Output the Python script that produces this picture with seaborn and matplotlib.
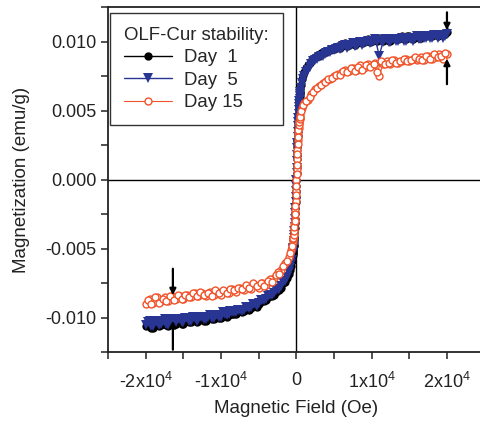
import numpy as np
import pandas as pd
import seaborn as sns
import matplotlib.pyplot as plt
from matplotlib.ticker import MultipleLocator, FixedLocator, FixedFormatter

# magnetic field (Oe), first sweep (listed in ascending order, measured downward)
field_down = [
    -20000, -19500, -19000, -18500, -18000, -17500, -17000, -16500, -16000, -15500,
    -15000, -14500, -14000, -13500, -13000, -12500, -12000, -11500, -11000, -10500,
    -10000, -9500, -9000, -8500, -8000, -7500, -7000, -6500, -6000, -5500,
    -5000, -4500, -4000, -3500, -3000, -2500, -2000, -1500, -1000, -750,
    -500, -450, -400, -350, -300, -250, -200, -150, -100, -50,
    0, 50, 100, 150, 200, 250, 300, 350, 400, 450,
    500, 750, 1000, 1500, 2000, 2500, 3000, 3500, 4000, 4500,
    5000, 5500, 6000, 6500, 7000, 7500, 8000, 8500, 9000, 9500,
    10000, 10500, 11000, 11500, 12000, 12500, 13000, 13500, 14000, 14500,
    15000, 15500, 16000, 16500, 17000, 17500, 18000, 18500, 19000, 19500,
    20000]

# magnetic field (Oe), return sweep
field_up = [
    -19750, -19250, -18750, -18250, -17750, -17250, -16750, -16250, -15750, -15250,
    -14750, -14250, -13750, -13250, -12750, -12250, -11750, -11250, -10750, -10250,
    -9750, -9250, -8750, -8250, -7750, -7250, -6750, -6250, -5750, -5250,
    -4750, -4250, -3750, -3250, -2750, -2250, -1750, -1250, -875, -625,
    -475, -425, -375, -325, -275, -225, -175, -125, -75, -25,
    25, 75, 125, 175, 225, 275, 325, 375, 425, 475,
    625, 875, 1250, 1750, 2250, 2750, 3250, 3750, 4250, 4750,
    5250, 5750, 6250, 6750, 7250, 7750, 8250, 8750, 9250, 9750,
    10250, 10750, 11250, 11750, 12250, 12750, 13250, 13750, 14250, 14750,
    15250, 15750, 16250, 16750, 17250, 17750, 18250, 18750, 19250, 19750]

# magnetization (emu/g)
day1_down = [
    -0.0106, -0.0104, -0.0107, -0.0104, -0.0105, -0.0103, -0.0106, -0.0104, -0.0104, -0.0102,
    -0.0104, -0.0101, -0.0103, -0.0101, -0.0102, -0.0100, -0.0102, -0.0099, -0.0101, -0.0099,
    -0.0100, -0.0098, -0.0098, -0.0097, -0.0097, -0.0095, -0.0095, -0.0093, -0.0093, -0.0091,
    -0.0090, -0.0088, -0.0087, -0.0084, -0.0083, -0.0080, -0.0078, -0.0074, -0.0068, -0.0062,
    -0.0054, -0.0052, -0.0050, -0.0047, -0.0043, -0.0038, -0.0031, -0.0024, -0.0016, -0.0008,
    0.0000, 0.0010, 0.0019, 0.0028, 0.0036, 0.0043, 0.0049, 0.0055, 0.0059, 0.0063,
    0.0066, 0.0073, 0.0078, 0.0083, 0.0086, 0.0089, 0.0090, 0.0092, 0.0093, 0.0094,
    0.0095, 0.0097, 0.0097, 0.0099, 0.0098, 0.0100, 0.0099, 0.0101, 0.0100, 0.0102,
    0.0101, 0.0103, 0.0102, 0.0101, 0.0103, 0.0101, 0.0103, 0.0102, 0.0104, 0.0102,
    0.0104, 0.0102, 0.0105, 0.0103, 0.0104, 0.0105, 0.0104, 0.0106, 0.0105, 0.0105,
    0.0107]
day1_up = [
    -0.0104, -0.0107, -0.0103, -0.0106, -0.0103, -0.0105, -0.0102, -0.0105, -0.0102, -0.0104,
    -0.0101, -0.0103, -0.0100, -0.0103, -0.0100, -0.0102, -0.0100, -0.0101, -0.0099, -0.0100,
    -0.0097, -0.0099, -0.0096, -0.0097, -0.0095, -0.0096, -0.0093, -0.0094, -0.0091, -0.0092,
    -0.0088, -0.0088, -0.0085, -0.0084, -0.0081, -0.0080, -0.0075, -0.0071, -0.0065, -0.0059,
    -0.0053, -0.0051, -0.0048, -0.0045, -0.0041, -0.0035, -0.0028, -0.0020, -0.0012, -0.0004,
    0.0005, 0.0015, 0.0024, 0.0032, 0.0040, 0.0046, 0.0052, 0.0057, 0.0061, 0.0064,
    0.0069, 0.0076, 0.0081, 0.0085, 0.0088, 0.0090, 0.0092, 0.0093, 0.0094, 0.0095,
    0.0096, 0.0096, 0.0098, 0.0097, 0.0099, 0.0098, 0.0100, 0.0099, 0.0101, 0.0100,
    0.0102, 0.0101, 0.0102, 0.0103, 0.0101, 0.0103, 0.0102, 0.0103, 0.0102, 0.0104,
    0.0103, 0.0104, 0.0103, 0.0105, 0.0104, 0.0104, 0.0106, 0.0104, 0.0106, 0.0106]

day5_down = [
    -0.0105, -0.0102, -0.0106, -0.0103, -0.0104, -0.0101, -0.0105, -0.0102, -0.0103, -0.0101,
    -0.0103, -0.0100, -0.0102, -0.0100, -0.0101, -0.0099, -0.0101, -0.0098, -0.0100, -0.0098,
    -0.0099, -0.0097, -0.0097, -0.0096, -0.0096, -0.0094, -0.0094, -0.0092, -0.0092, -0.0090,
    -0.0089, -0.0087, -0.0086, -0.0083, -0.0082, -0.0079, -0.0077, -0.0073, -0.0067, -0.0061,
    -0.0053, -0.0051, -0.0049, -0.0046, -0.0042, -0.0037, -0.0031, -0.0024, -0.0016, -0.0008,
    0.0000, 0.0009, 0.0018, 0.0027, 0.0035, 0.0042, 0.0048, 0.0053, 0.0057, 0.0061,
    0.0064, 0.0070, 0.0075, 0.0080, 0.0084, 0.0087, 0.0089, 0.0090, 0.0092, 0.0093,
    0.0094, 0.0096, 0.0096, 0.0098, 0.0097, 0.0099, 0.0098, 0.0100, 0.0099, 0.0101,
    0.0100, 0.0102, 0.0090, 0.0100, 0.0102, 0.0100, 0.0102, 0.0101, 0.0103, 0.0101,
    0.0103, 0.0101, 0.0104, 0.0102, 0.0103, 0.0104, 0.0103, 0.0105, 0.0104, 0.0103,
    0.0106]
day5_up = [
    -0.0103, -0.0106, -0.0102, -0.0105, -0.0102, -0.0104, -0.0101, -0.0104, -0.0101, -0.0103,
    -0.0100, -0.0102, -0.0099, -0.0102, -0.0099, -0.0101, -0.0099, -0.0100, -0.0098, -0.0099,
    -0.0096, -0.0098, -0.0095, -0.0096, -0.0094, -0.0095, -0.0092, -0.0093, -0.0090, -0.0091,
    -0.0087, -0.0087, -0.0084, -0.0083, -0.0080, -0.0079, -0.0074, -0.0070, -0.0064, -0.0058,
    -0.0052, -0.0050, -0.0047, -0.0044, -0.0040, -0.0034, -0.0028, -0.0020, -0.0012, -0.0004,
    0.0005, 0.0014, 0.0023, 0.0031, 0.0039, 0.0045, 0.0051, 0.0055, 0.0059, 0.0062,
    0.0067, 0.0073, 0.0078, 0.0082, 0.0086, 0.0088, 0.0090, 0.0091, 0.0093, 0.0094,
    0.0095, 0.0095, 0.0097, 0.0096, 0.0098, 0.0097, 0.0099, 0.0098, 0.0100, 0.0099,
    0.0101, 0.0100, 0.0101, 0.0102, 0.0100, 0.0102, 0.0101, 0.0102, 0.0101, 0.0103,
    0.0102, 0.0103, 0.0102, 0.0104, 0.0103, 0.0103, 0.0105, 0.0103, 0.0105, 0.0104]

day15_down = [
    -0.0090, -0.0086, -0.0089, -0.0085, -0.0088, -0.0085, -0.0088, -0.0084, -0.0086, -0.0084,
    -0.0086, -0.0083, -0.0085, -0.0082, -0.0084, -0.0082, -0.0084, -0.0081, -0.0083, -0.0081,
    -0.0083, -0.0081, -0.0082, -0.0079, -0.0081, -0.0078, -0.0080, -0.0077, -0.0079, -0.0076,
    -0.0078, -0.0075, -0.0076, -0.0072, -0.0071, -0.0067, -0.0065, -0.0060, -0.0056, -0.0051,
    -0.0045, -0.0043, -0.0041, -0.0039, -0.0036, -0.0032, -0.0028, -0.0022, -0.0015, -0.0008,
    0.0000, 0.0008, 0.0015, 0.0022, 0.0029, 0.0034, 0.0038, 0.0041, 0.0043, 0.0045,
    0.0047, 0.0052, 0.0056, 0.0058, 0.0062, 0.0066, 0.0068, 0.0070, 0.0072, 0.0073,
    0.0075, 0.0077, 0.0078, 0.0080, 0.0079, 0.0081, 0.0080, 0.0083, 0.0081, 0.0084,
    0.0083, 0.0085, 0.0075, 0.0084, 0.0086, 0.0084, 0.0087, 0.0085, 0.0086, 0.0088,
    0.0086, 0.0088, 0.0087, 0.0089, 0.0087, 0.0090, 0.0088, 0.0089, 0.0091, 0.0088,
    0.0091]
day15_up = [
    -0.0087, -0.0090, -0.0085, -0.0089, -0.0086, -0.0088, -0.0084, -0.0087, -0.0083, -0.0086,
    -0.0083, -0.0085, -0.0082, -0.0084, -0.0081, -0.0083, -0.0082, -0.0084, -0.0080, -0.0082,
    -0.0080, -0.0082, -0.0079, -0.0080, -0.0078, -0.0079, -0.0076, -0.0078, -0.0075, -0.0077,
    -0.0075, -0.0077, -0.0073, -0.0074, -0.0069, -0.0068, -0.0062, -0.0059, -0.0053, -0.0048,
    -0.0043, -0.0042, -0.0040, -0.0037, -0.0034, -0.0030, -0.0025, -0.0019, -0.0011, -0.0004,
    0.0004, 0.0011, 0.0019, 0.0026, 0.0031, 0.0036, 0.0040, 0.0042, 0.0044, 0.0046,
    0.0050, 0.0054, 0.0057, 0.0060, 0.0064, 0.0067, 0.0069, 0.0071, 0.0073, 0.0074,
    0.0076, 0.0076, 0.0079, 0.0078, 0.0081, 0.0079, 0.0082, 0.0080, 0.0083, 0.0082,
    0.0084, 0.0078, 0.0086, 0.0084, 0.0085, 0.0087, 0.0085, 0.0086, 0.0088, 0.0086,
    0.0087, 0.0089, 0.0088, 0.0087, 0.0090, 0.0088, 0.0091, 0.0089, 0.0090, 0.0092]

xtick_vals = [-20000, -10000, 0, 10000, 20000]
xtick_labels = ['-2x10$^4$', '-1x10$^4$', '0', '1x10$^4$', '2x10$^4$']

sns.set_style('ticks')
plt.rcParams['font.family'] = ['Liberation Sans', 'DejaVu Sans']
plt.rcParams['mathtext.fontset'] = 'custom'
plt.rcParams['mathtext.rm'] = 'Liberation Sans'
plt.rcParams['mathtext.default'] = 'regular'
plt.rcParams['axes.unicode_minus'] = False

# full loop: sweep down from +2x10^4, then back up
loop_field = field_down[::-1] + field_up
df = pd.DataFrame({
    'field': loop_field,
    'd1': day1_down[::-1] + day1_up,
    'd5': day5_down[::-1] + day5_up,
    'd15': day15_down[::-1] + day15_up,
})

fig = plt.figure(figsize=(4.81, 4.23), dpi=100)
ax = fig.add_axes([0.2248, 0.1667, 0.7827, 0.8156])

sns.lineplot(data=df, x='field', y='d1', ax=ax, estimator=None, sort=False,
             color='black', linewidth=1, marker='o', markersize=6,
             markeredgewidth=0, label='Day  1', zorder=3)
sns.lineplot(data=df, x='field', y='d5', ax=ax, estimator=None, sort=False,
             color='#283593', linewidth=1, marker='v', markersize=6.5,
             markeredgewidth=0, label='Day  5', zorder=4)
sns.lineplot(data=df, x='field', y='d15', ax=ax, estimator=None, sort=False,
             color='#f0542b', linewidth=0.8, marker='o', markersize=5,
             markerfacecolor='white', markeredgecolor='#f0542b',
             markeredgewidth=1, label='Day 15', zorder=5)

ax.axhline(0, color='black', lw=1, zorder=2)
ax.axvline(0, color='black', lw=1, zorder=2)

# arrows marking the saturation change
arrow = dict(arrowstyle='-|>', color='black', lw=1.6, mutation_scale=9)
ax.annotate('', xy=(20000, 0.01065), xytext=(20000, 0.01235), arrowprops=arrow, zorder=6)
ax.annotate('', xy=(20000, 0.00899), xytext=(20000, 0.00674), arrowprops=arrow, zorder=6)
ax.annotate('', xy=(-16400, -0.00855), xytext=(-16400, -0.00623), arrowprops=arrow, zorder=6)
ax.annotate('', xy=(-16400, -0.0100), xytext=(-16400, -0.0125), arrowprops=arrow, zorder=6)

ax.set_xlim(-25000, 25000)
ax.set_ylim(-0.0125, 0.0125)
ax.xaxis.set_major_locator(FixedLocator(xtick_vals))
ax.xaxis.set_major_formatter(FixedFormatter(xtick_labels))
ax.xaxis.set_minor_locator(MultipleLocator(5000))
ax.yaxis.set_major_locator(MultipleLocator(0.005))
ax.yaxis.set_minor_locator(MultipleLocator(0.0025))
ax.yaxis.set_major_formatter(plt.FormatStrFormatter('%.3f'))
ax.tick_params(which='both', direction='out', length=5, width=1.1, labelsize=13,
               color='#222222', labelcolor='#222222')
ax.tick_params(axis='x', pad=9)
for side in ['left', 'bottom', 'top']:
    ax.spines[side].set_linewidth(1.3)
    ax.spines[side].set_color('#222222')
ax.spines['right'].set_visible(False)

ax.set_xlabel('Magnetic Field (Oe)', fontsize=13.5, color='#222222', labelpad=6)
ax.set_ylabel('Magnetization (emu/g)', fontsize=13.5, color='#222222', labelpad=11)

leg = ax.legend(title='OLF-Cur stability:', loc='upper left',
                bbox_to_anchor=(0.005, 0.985), borderaxespad=0, fontsize=13.4,
                title_fontsize=13.4, frameon=True, fancybox=False, framealpha=1,
                edgecolor='#333333', handlelength=2.6, labelspacing=0.3,
                alignment='left', borderpad=0.75, handletextpad=0.6)
leg.get_frame().set_linewidth(1)

fig.savefig('out.png', dpi=100)
